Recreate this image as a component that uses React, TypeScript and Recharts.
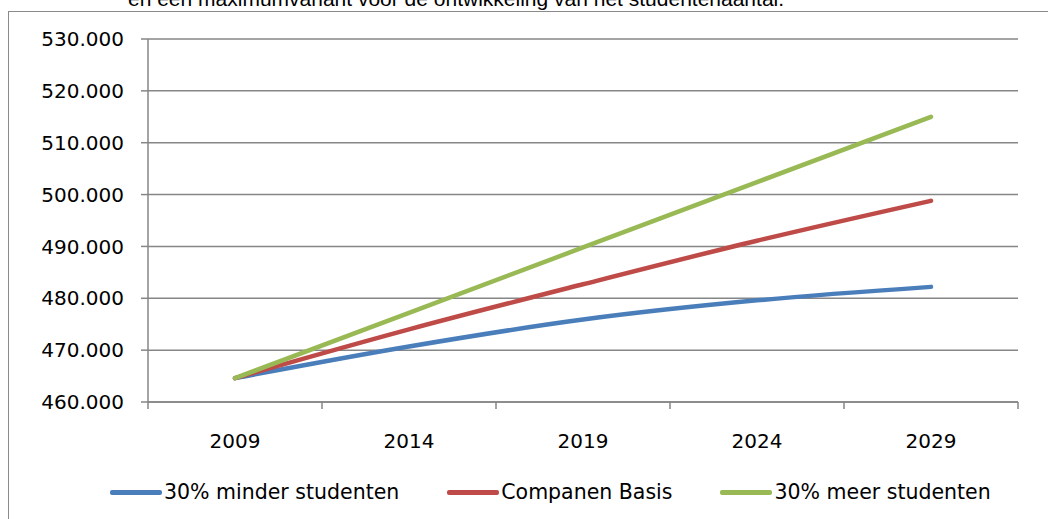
// Studentenaantal scenario's 2009-2029 (Recharts)

import { LineChart, Line, XAxis, YAxis, CartesianGrid } from "recharts";

const years = [2009, 2014, 2019, 2024, 2029];
const minderStudenten = [464600, 470700, 475900, 479600, 482200];
const companenBasis = [464600, 474000, 482700, 491100, 498800];
const meerStudenten = [464600, 477200, 489800, 502400, 515000];

const yTicks = [460000, 470000, 480000, 490000, 500000, 510000, 520000, 530000];
// grenzen tussen de categorieen (tickmarks op de x-as)
const xBounds = [2006.5, 2011.5, 2016.5, 2021.5, 2026.5, 2031.5];

const series = [
  { key: "minder", label: "30% minder studenten", color: "#4a7ebb" },
  { key: "basis", label: "Companen Basis", color: "#be4b48" },
  { key: "meer", label: "30% meer studenten", color: "#98b954" },
];

const FONT = "'DejaVu Sans', sans-serif";
const GRID = "#868686";
const W = 1048;
const H = 519;
const MARGIN = { top: 39, right: 30, bottom: 67, left: 0 };
const Y_WIDTH = 148;
const CAT_W = (W - MARGIN.right - Y_WIDTH) / years.length;

const data = years.map((year, i) => ({
  year,
  minder: minderStudenten[i],
  basis: companenBasis[i],
  meer: meerStudenten[i],
}));

const fmt = (v: number) => String(v).replace(/\B(?=(\d{3})+(?!\d))/g, ".");

function XTick({ x, y, index }: any) {
  if (index >= years.length) return null;
  return (
    <text
      x={x + CAT_W / 2}
      y={y}
      dy="0.71em"
      textAnchor="middle"
      fill="#000"
      fontSize={20}
      fontFamily={FONT}
    >
      {years[index]}
    </text>
  );
}

export default function App() {
  return (
    <div
      style={{
        position: "absolute",
        left: 0,
        top: 0,
        width: W,
        height: H,
        overflow: "hidden",
        background: "#fff",
      }}
    >
      {/* bovenkant van de bijschrifttekst valt buiten beeld, net als in het origineel */}
      <div
        style={{
          position: "absolute",
          left: 128,
          top: -12,
          lineHeight: "21px",
          fontSize: 21,
          fontFamily: "'Liberation Sans', Arial, sans-serif",
          whiteSpace: "nowrap",
          color: "#000",
        }}
      >
        en een maximumvariant voor de ontwikkeling van het studentenaantal.
      </div>
      <div
        style={{
          position: "absolute",
          left: 8,
          top: 11,
          width: 1200,
          height: 700,
          border: "1.5px solid #8a8a8a",
        }}
      />
      <div style={{ position: "absolute", left: 0, top: 0 }}>
        <LineChart width={W} height={H} data={data} margin={MARGIN}>
          <CartesianGrid vertical={false} stroke={GRID} strokeWidth={1.5} />
          <XAxis
            type="number"
            dataKey="year"
            domain={[xBounds[0], xBounds[xBounds.length - 1]]}
            ticks={xBounds}
            interval={0}
            height={50}
            stroke={GRID}
            strokeWidth={1.5}
            tickSize={7}
            tickMargin={25}
            tick={<XTick />}
          />
          <YAxis
            domain={[460000, 530000]}
            ticks={yTicks}
            interval={0}
            width={Y_WIDTH}
            stroke={GRID}
            strokeWidth={1.5}
            tickSize={7}
            tickMargin={17}
            tickFormatter={fmt}
            tick={{ fill: "#000", fontSize: 20, fontFamily: FONT }}
          />
          {series.map((s) => (
            <Line
              key={s.key}
              type="monotone"
              dataKey={s.key}
              stroke={s.color}
              strokeWidth={4.5}
              strokeLinecap="round"
              dot={false}
              activeDot={false}
              isAnimationActive={false}
            />
          ))}
        </LineChart>
      </div>
      <div
        style={{
          position: "absolute",
          left: 110,
          top: 480,
          display: "flex",
          gap: 48,
          alignItems: "center",
          fontFamily: FONT,
          fontSize: 20.5,
          color: "#000",
          whiteSpace: "nowrap",
        }}
      >
        {series.map((s) => (
          <div key={s.key} style={{ display: "flex", alignItems: "center" }}>
            <span
              style={{
                display: "inline-block",
                width: 52,
                height: 5,
                borderRadius: 2,
                background: s.color,
                marginRight: 2,
              }}
            />
            <span>{s.label}</span>
          </div>
        ))}
      </div>
    </div>
  );
}
